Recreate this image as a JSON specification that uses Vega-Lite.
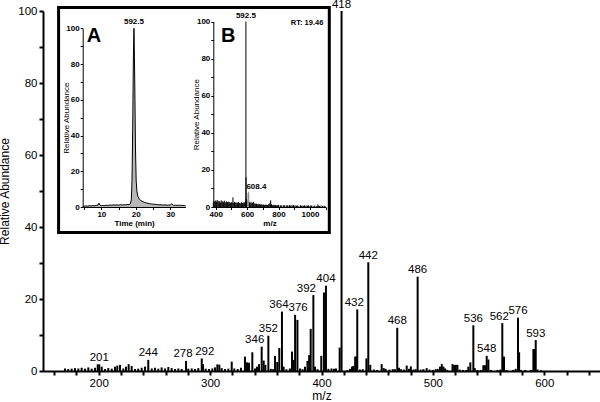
{
  "$schema": "https://vega.github.io/schema/vega-lite/v6.json",
  "width": 557,
  "height": 360,
  "autosize": {"type": "none"},
  "padding": {"left": 43, "top": 11, "right": 0, "bottom": 31},
  "background": "white",
  "config": {"view": {"stroke": null}, "font": "Liberation Sans"},
  "datasets": {
    "main": [
      {"mz": 169.7, "ab": 0.7}, {"mz": 172.7, "ab": 0.55}, {"mz": 175.7, "ab": 0.65}, {"mz": 178.7, "ab": 0.8},
      {"mz": 181.7, "ab": 0.7}, {"mz": 184.7, "ab": 0.9}, {"mz": 187.7, "ab": 0.65}, {"mz": 190.7, "ab": 1.0},
      {"mz": 193.7, "ab": 0.65}, {"mz": 196.7, "ab": 0.9}, {"mz": 199.1, "ab": 1.85}, {"mz": 200.5, "ab": 1.85, "label": "201"},
      {"mz": 202.7, "ab": 1.2}, {"mz": 205.7, "ab": 0.55}, {"mz": 208.6, "ab": 0.8}, {"mz": 211.7, "ab": 0.65},
      {"mz": 214.6, "ab": 1.2}, {"mz": 216.7, "ab": 1.5}, {"mz": 219.1, "ab": 1.7}, {"mz": 222.1, "ab": 0.7},
      {"mz": 224.5, "ab": 1.2}, {"mz": 226.9, "ab": 1.9}, {"mz": 229.6, "ab": 1.4}, {"mz": 232.6, "ab": 0.55},
      {"mz": 235.5, "ab": 0.65}, {"mz": 238.6, "ab": 0.9}, {"mz": 241.6, "ab": 1.2}, {"mz": 244.5, "ab": 3.1, "label": "244"},
      {"mz": 247.6, "ab": 0.7}, {"mz": 250.5, "ab": 0.9}, {"mz": 253.5, "ab": 0.65}, {"mz": 256.5, "ab": 1.0},
      {"mz": 259.5, "ab": 0.7}, {"mz": 262.5, "ab": 1.1}, {"mz": 265.5, "ab": 0.8}, {"mz": 268.5, "ab": 0.55},
      {"mz": 271.5, "ab": 0.7}, {"mz": 274.5, "ab": 0.55}, {"mz": 278.4, "ab": 2.8, "label": "278"}, {"mz": 280.4, "ab": 0.65},
      {"mz": 283.5, "ab": 0.7}, {"mz": 286.4, "ab": 0.55}, {"mz": 289.4, "ab": 0.8}, {"mz": 292.5, "ab": 3.5, "label": "292"},
      {"mz": 293.6, "ab": 1.9}, {"mz": 296, "ab": 0.65}, {"mz": 299, "ab": 0.55}, {"mz": 302, "ab": 0.7},
      {"mz": 304.4, "ab": 1.0}, {"mz": 306.5, "ab": 1.85}, {"mz": 308.3, "ab": 1.75}, {"mz": 310.4, "ab": 0.8},
      {"mz": 313.4, "ab": 0.55}, {"mz": 316.4, "ab": 0.65}, {"mz": 319.4, "ab": 2.6}, {"mz": 321.7, "ab": 0.7},
      {"mz": 324.8, "ab": 0.55}, {"mz": 327.7, "ab": 0.9}, {"mz": 331.3, "ab": 4.0}, {"mz": 333.1, "ab": 2.4},
      {"mz": 334.9, "ab": 2.3}, {"mz": 337.9, "ab": 5.2}, {"mz": 340.3, "ab": 0.7}, {"mz": 342.1, "ab": 1.2},
      {"mz": 343.9, "ab": 1.9}, {"mz": 346.3, "ab": 6.75, "label": "346"}, {"mz": 348.1, "ab": 2.9}, {"mz": 349.6, "ab": 1.7},
      {"mz": 352.3, "ab": 9.8, "label": "352"}, {"mz": 354.5, "ab": 0.6}, {"mz": 356.5, "ab": 0.5}, {"mz": 358.3, "ab": 4.2},
      {"mz": 360.3, "ab": 2.5}, {"mz": 362.1, "ab": 6.4}, {"mz": 364.5, "ab": 16.5, "label": "364"}, {"mz": 366, "ab": 1.2},
      {"mz": 368.5, "ab": 0.5}, {"mz": 371.6, "ab": 0.7}, {"mz": 373.5, "ab": 5.4}, {"mz": 374.9, "ab": 3.1},
      {"mz": 376.3, "ab": 15.6, "label": "376"}, {"mz": 378.4, "ab": 14.2}, {"mz": 380.7, "ab": 0.7}, {"mz": 383, "ab": 0.5},
      {"mz": 385.2, "ab": 1.2}, {"mz": 387.4, "ab": 2.8}, {"mz": 388.9, "ab": 4.4}, {"mz": 390.3, "ab": 11.7},
      {"mz": 392.7, "ab": 21.1, "label": "392"}, {"mz": 394.2, "ab": 1.2}, {"mz": 396.5, "ab": 0.5}, {"mz": 399.8, "ab": 4.2},
      {"mz": 402.2, "ab": 21.8}, {"mz": 404, "ab": 23.7, "label": "404"}, {"mz": 406.2, "ab": 0.6}, {"mz": 409, "ab": 0.7},
      {"mz": 411.2, "ab": 0.6}, {"mz": 413, "ab": 0.7}, {"mz": 416.3, "ab": 6.5}, {"mz": 418, "ab": 100, "label": "418"},
      {"mz": 423.2, "ab": 0.3}, {"mz": 425.6, "ab": 0.6}, {"mz": 427.4, "ab": 1.2}, {"mz": 428.6, "ab": 1.4},
      {"mz": 430.2, "ab": 4.0}, {"mz": 431, "ab": 4.0}, {"mz": 432.1, "ab": 17.1, "label": "432"}, {"mz": 434.5, "ab": 0.4},
      {"mz": 437, "ab": 0.5}, {"mz": 440.3, "ab": 3.5}, {"mz": 442, "ab": 30.2, "label": "442"}, {"mz": 443.8, "ab": 1.7},
      {"mz": 447, "ab": 0.4}, {"mz": 450, "ab": 0.3}, {"mz": 454, "ab": 1.9}, {"mz": 455.8, "ab": 0.8},
      {"mz": 457.5, "ab": 0.6}, {"mz": 461, "ab": 0.4}, {"mz": 464, "ab": 0.5}, {"mz": 466, "ab": 0.5},
      {"mz": 468, "ab": 12.0, "label": "468"}, {"mz": 469.6, "ab": 0.9}, {"mz": 471.5, "ab": 0.5}, {"mz": 474, "ab": 0.4},
      {"mz": 476.5, "ab": 1.5}, {"mz": 478.5, "ab": 0.6}, {"mz": 480.2, "ab": 1.3}, {"mz": 482.5, "ab": 0.4},
      {"mz": 484.5, "ab": 0.5}, {"mz": 486.3, "ab": 26.2, "label": "486"}, {"mz": 489, "ab": 0.4}, {"mz": 491.5, "ab": 0.5},
      {"mz": 494.4, "ab": 0.8}, {"mz": 497, "ab": 0.4}, {"mz": 500, "ab": 0.3}, {"mz": 502.5, "ab": 0.5},
      {"mz": 504.3, "ab": 0.6}, {"mz": 506.4, "ab": 1.2}, {"mz": 508, "ab": 1.9}, {"mz": 509.5, "ab": 1.2},
      {"mz": 511, "ab": 0.7}, {"mz": 513, "ab": 0.3}, {"mz": 517.6, "ab": 1.9}, {"mz": 519.1, "ab": 1.7},
      {"mz": 520.6, "ab": 1.7}, {"mz": 522, "ab": 1.7}, {"mz": 524, "ab": 0.4}, {"mz": 527, "ab": 0.3},
      {"mz": 530, "ab": 0.3}, {"mz": 531.8, "ab": 1.2}, {"mz": 533.6, "ab": 2.4}, {"mz": 536.3, "ab": 12.7, "label": "536"},
      {"mz": 537.6, "ab": 0.8}, {"mz": 540, "ab": 0.3}, {"mz": 543, "ab": 0.3}, {"mz": 545.3, "ab": 1.6},
      {"mz": 546.8, "ab": 1.6}, {"mz": 548.3, "ab": 4.2, "label": "548"}, {"mz": 549.8, "ab": 3.2}, {"mz": 552, "ab": 0.3},
      {"mz": 558, "ab": 0.3}, {"mz": 560.5, "ab": 0.4}, {"mz": 562.3, "ab": 13.3, "label": "562"}, {"mz": 563.8, "ab": 4.0},
      {"mz": 566, "ab": 0.3}, {"mz": 572, "ab": 0.3}, {"mz": 574.3, "ab": 0.6}, {"mz": 576.4, "ab": 14.8, "label": "576"},
      {"mz": 577.4, "ab": 5.2}, {"mz": 579, "ab": 0.3}, {"mz": 583, "ab": 0.3}, {"mz": 588, "ab": 0.3},
      {"mz": 590.2, "ab": 6.1}, {"mz": 591, "ab": 6.1}, {"mz": 592.3, "ab": 8.6, "label": "593"}, {"mz": 594, "ab": 0.4},
      {"mz": 597, "ab": 0.2}
    ],
    "chrom": [
      {"t": 4.6, "ab": 0.3}, {"t": 5, "ab": 0.5}, {"t": 5.5, "ab": 0.6}, {"t": 6, "ab": 0.5}, {"t": 6.5, "ab": 0.7},
      {"t": 7, "ab": 0.6}, {"t": 7.5, "ab": 0.8}, {"t": 8, "ab": 0.7}, {"t": 8.5, "ab": 0.9}, {"t": 9, "ab": 1.0},
      {"t": 9.3, "ab": 2.2}, {"t": 9.6, "ab": 1.0}, {"t": 10, "ab": 0.8}, {"t": 10.5, "ab": 0.9}, {"t": 11, "ab": 0.8},
      {"t": 11.5, "ab": 1.0}, {"t": 12, "ab": 0.9}, {"t": 12.5, "ab": 1.1}, {"t": 13, "ab": 1.0}, {"t": 13.5, "ab": 1.2},
      {"t": 14, "ab": 1.1}, {"t": 14.5, "ab": 1.2}, {"t": 15, "ab": 1.0}, {"t": 15.5, "ab": 1.3}, {"t": 16, "ab": 1.1},
      {"t": 16.5, "ab": 1.3}, {"t": 17, "ab": 1.2}, {"t": 17.5, "ab": 1.4}, {"t": 18, "ab": 1.3}, {"t": 18.4, "ab": 1.8},
      {"t": 18.7, "ab": 4}, {"t": 18.9, "ab": 15}, {"t": 19.1, "ab": 45}, {"t": 19.3, "ab": 85}, {"t": 19.46, "ab": 100, "label": "592.5"},
      {"t": 19.6, "ab": 84}, {"t": 19.75, "ab": 60}, {"t": 19.9, "ab": 33}, {"t": 20.1, "ab": 15}, {"t": 20.3, "ab": 9},
      {"t": 20.6, "ab": 6}, {"t": 21, "ab": 4.5}, {"t": 21.5, "ab": 3.5}, {"t": 22, "ab": 3.0}, {"t": 22.5, "ab": 2.6},
      {"t": 23, "ab": 2.3}, {"t": 23.5, "ab": 2.1}, {"t": 24, "ab": 1.9}, {"t": 24.5, "ab": 1.7}, {"t": 25, "ab": 1.6},
      {"t": 25.5, "ab": 1.5}, {"t": 26, "ab": 1.4}, {"t": 26.5, "ab": 1.3}, {"t": 27, "ab": 1.2}, {"t": 27.5, "ab": 1.2},
      {"t": 28, "ab": 1.1}, {"t": 28.5, "ab": 1.2}, {"t": 29, "ab": 1.0}, {"t": 29.5, "ab": 1.1}, {"t": 30, "ab": 1.0},
      {"t": 30.4, "ab": 1.9}, {"t": 30.8, "ab": 1.0}, {"t": 31, "ab": 0.9}, {"t": 31.5, "ab": 1.0}, {"t": 32, "ab": 0.9},
      {"t": 32.5, "ab": 1.0}, {"t": 33, "ab": 0.9}, {"t": 33.5, "ab": 0.9}, {"t": 34, "ab": 0.8}, {"t": 34.4, "ab": 0.8}
    ],
    "ms2": [
      {"mz": 385, "ab": 2.5}, {"mz": 390, "ab": 3.2}, {"mz": 395, "ab": 2.8}, {"mz": 400, "ab": 3.5}, {"mz": 405, "ab": 2.9},
      {"mz": 410, "ab": 3.8}, {"mz": 415, "ab": 2.6}, {"mz": 420, "ab": 3.3}, {"mz": 425, "ab": 3.0}, {"mz": 430, "ab": 2.4},
      {"mz": 435, "ab": 3.6}, {"mz": 440, "ab": 2.9}, {"mz": 445, "ab": 3.1}, {"mz": 450, "ab": 2.5}, {"mz": 455, "ab": 3.4},
      {"mz": 460, "ab": 2.7}, {"mz": 465, "ab": 2.2}, {"mz": 470, "ab": 3.0}, {"mz": 475, "ab": 2.6}, {"mz": 480, "ab": 2.9},
      {"mz": 485, "ab": 2.3}, {"mz": 490, "ab": 2.7}, {"mz": 495, "ab": 2.1}, {"mz": 500, "ab": 2.6}, {"mz": 505, "ab": 2.4},
      {"mz": 510, "ab": 5.2}, {"mz": 515, "ab": 2.2}, {"mz": 520, "ab": 2.8}, {"mz": 525, "ab": 2.3}, {"mz": 530, "ab": 2.5},
      {"mz": 535, "ab": 2.0}, {"mz": 540, "ab": 2.4}, {"mz": 545, "ab": 2.6}, {"mz": 550, "ab": 2.1}, {"mz": 555, "ab": 2.3},
      {"mz": 560, "ab": 1.8}, {"mz": 565, "ab": 2.5}, {"mz": 570, "ab": 2.2}, {"mz": 575, "ab": 1.9}, {"mz": 580, "ab": 2.6},
      {"mz": 585, "ab": 2.4}, {"mz": 590, "ab": 3.0}, {"mz": 592.5, "ab": 100, "label": "592.5"}, {"mz": 593.5, "ab": 16},
      {"mz": 595, "ab": 4.5}, {"mz": 598, "ab": 3.0}, {"mz": 604, "ab": 3.5}, {"mz": 606, "ab": 7.5},
      {"mz": 608.4, "ab": 8.2, "label": "608.4"}, {"mz": 610.5, "ab": 7.0}, {"mz": 612, "ab": 3.0},
      {"mz": 615, "ab": 2.5}, {"mz": 620, "ab": 2.0}, {"mz": 625, "ab": 2.8}, {"mz": 630, "ab": 1.9}, {"mz": 635, "ab": 2.3},
      {"mz": 640, "ab": 2.8}, {"mz": 645, "ab": 1.7}, {"mz": 650, "ab": 2.0}, {"mz": 655, "ab": 1.6}, {"mz": 660, "ab": 1.8},
      {"mz": 665, "ab": 1.4}, {"mz": 670, "ab": 1.7}, {"mz": 675, "ab": 1.3}, {"mz": 680, "ab": 1.6}, {"mz": 685, "ab": 1.2},
      {"mz": 690, "ab": 1.5}, {"mz": 695, "ab": 1.1}, {"mz": 700, "ab": 1.4}, {"mz": 705, "ab": 1.2}, {"mz": 710, "ab": 1.0},
      {"mz": 715, "ab": 1.3}, {"mz": 720, "ab": 1.1}, {"mz": 725, "ab": 1.2}, {"mz": 730, "ab": 1.0}, {"mz": 735, "ab": 1.4},
      {"mz": 740, "ab": 1.5}, {"mz": 745, "ab": 2.2}, {"mz": 750, "ab": 3.6}, {"mz": 755, "ab": 1.5}, {"mz": 760, "ab": 1.1},
      {"mz": 765, "ab": 1.0}, {"mz": 770, "ab": 1.2}, {"mz": 775, "ab": 0.9}, {"mz": 780, "ab": 1.1}, {"mz": 785, "ab": 0.8},
      {"mz": 790, "ab": 1.0}, {"mz": 795, "ab": 0.9}, {"mz": 800, "ab": 1.1}, {"mz": 810, "ab": 0.8}, {"mz": 815, "ab": 1.0},
      {"mz": 820, "ab": 0.7}, {"mz": 830, "ab": 0.9}, {"mz": 835, "ab": 0.8}, {"mz": 840, "ab": 1.0}, {"mz": 850, "ab": 0.7},
      {"mz": 855, "ab": 0.9}, {"mz": 860, "ab": 0.8}, {"mz": 870, "ab": 1.0}, {"mz": 875, "ab": 0.7}, {"mz": 880, "ab": 0.9},
      {"mz": 890, "ab": 0.8}, {"mz": 895, "ab": 1.1}, {"mz": 900, "ab": 0.7}, {"mz": 910, "ab": 0.9}, {"mz": 915, "ab": 0.6},
      {"mz": 920, "ab": 0.8}, {"mz": 930, "ab": 0.7}, {"mz": 940, "ab": 0.9}, {"mz": 945, "ab": 0.6}, {"mz": 950, "ab": 0.8},
      {"mz": 960, "ab": 0.7}, {"mz": 965, "ab": 0.9}, {"mz": 970, "ab": 0.6}, {"mz": 980, "ab": 0.8}, {"mz": 985, "ab": 0.7},
      {"mz": 990, "ab": 0.9}, {"mz": 1000, "ab": 0.6}, {"mz": 1005, "ab": 0.8}, {"mz": 1010, "ab": 0.7}, {"mz": 1020, "ab": 0.6},
      {"mz": 1030, "ab": 0.8}, {"mz": 1040, "ab": 0.6}, {"mz": 1050, "ab": 1.4}, {"mz": 1055, "ab": 0.7}, {"mz": 1060, "ab": 0.6},
      {"mz": 1070, "ab": 0.8}, {"mz": 1080, "ab": 0.6}, {"mz": 1090, "ab": 0.7}, {"mz": 1095, "ab": 0.5}
    ]
  },
  "layer": [
    {
      "data": {"name": "main"},
      "encoding": {
        "x": {
          "field": "mz", "type": "quantitative", "title": "m/z",
          "scale": {"domain": [150, 650], "nice": false, "zero": false},
          "axis": {
            "orient": "bottom",
            "values": [160, 180, 200, 220, 240, 260, 280, 300, 320, 340, 360, 380, 400, 420, 440, 460, 480, 500, 520, 540, 560, 580, 600, 620, 640],
            "labelExpr": "datum.value % 100 === 0 ? datum.label : ''",
            "grid": false, "domainWidth": 2, "domainColor": "black", "tickColor": "black", "tickWidth": 2, "tickSize": 4,
            "labelFontSize": 11.5, "labelColor": "black", "labelPadding": 2, "labelFlush": false, "labelOverlap": false,
            "titleFontSize": 12, "titleFontWeight": "normal", "titleColor": "black", "titlePadding": 2
          }
        },
        "y": {
          "field": "ab", "type": "quantitative", "title": "Relative Abundance",
          "scale": {"domain": [0, 100], "nice": false},
          "axis": {
            "orient": "left",
            "values": [0, 10, 20, 30, 40, 50, 60, 70, 80, 90, 100],
            "labelExpr": "datum.value % 20 === 0 ? datum.label : ''",
            "grid": false, "domainWidth": 2, "domainColor": "black", "tickColor": "black", "tickWidth": 2, "tickSize": 4,
            "labelFontSize": 11.5, "labelColor": "black", "labelPadding": 2, "labelFlush": false, "labelOverlap": false,
            "titleFontSize": 12, "titleFontWeight": "normal", "titleColor": "black", "titlePadding": 6
          }
        }
      },
      "layer": [
        {"mark": {"type": "rule", "strokeWidth": 2, "color": "black"}, "encoding": {"y2": {"datum": 0}}},
        {
          "transform": [{"filter": {"field": "label", "oneOf": ["201", "244", "352", "404", "418", "442", "468", "486", "536", "548", "576", "593"]}}],
          "mark": {"type": "text", "baseline": "bottom", "dy": -1.5, "fontSize": 11.5, "color": "black"},
          "encoding": {"text": {"field": "label"}}
        },
        {
          "transform": [{"filter": {"field": "label", "oneOf": ["292", "376"]}}],
          "mark": {"type": "text", "baseline": "bottom", "dy": -1.5, "dx": 3, "fontSize": 11.5, "color": "black"},
          "encoding": {"text": {"field": "label"}}
        },
        {
          "transform": [{"filter": {"field": "label", "oneOf": ["346", "392"]}}],
          "mark": {"type": "text", "baseline": "bottom", "dy": -1.5, "dx": -7, "fontSize": 11.5, "color": "black"},
          "encoding": {"text": {"field": "label"}}
        },
        {
          "transform": [{"filter": {"field": "label", "oneOf": ["278", "364", "432", "562"]}}],
          "mark": {"type": "text", "baseline": "bottom", "dy": -1.5, "dx": -3, "fontSize": 11.5, "color": "black"},
          "encoding": {"text": {"field": "label"}}
        },
        {
          "transform": [{"filter": {"field": "label", "equal": "418"}}],
          "mark": {"type": "rect", "filled": false, "color": "black", "strokeWidth": 3},
          "encoding": {"x": {"datum": 164}, "x2": {"datum": 407}, "y": {"datum": 101}, "y2": {"datum": 38.5}}
        }
      ]
    },
    {
      "data": {"name": "chrom"},
      "encoding": {
        "x": {
          "field": "t", "type": "quantitative", "title": "Time (min)",
          "scale": {"domain": [4.6, 34.4], "range": [39.7, 142.5], "nice": false, "zero": false},
          "axis": {
            "orient": "bottom", "offset": -164, "zindex": 1,
            "values": [5, 10, 15, 20, 25, 30],
            "labelExpr": "datum.value % 10 === 0 ? datum.label : ''",
            "grid": false, "domainWidth": 1, "domainColor": "black", "tickColor": "black", "tickWidth": 1, "tickSize": 2.5,
            "labelFontSize": 8, "labelFontWeight": "bold", "labelColor": "black", "labelPadding": 1, "labelFlush": false, "labelOverlap": false,
            "titleFontSize": 8, "titleFontWeight": "bold", "titleColor": "black", "titlePadding": 1
          }
        },
        "y": {
          "field": "ab", "type": "quantitative", "title": "Relative Abundance",
          "scale": {"domain": [0, 100], "range": [196, 17.3], "nice": false},
          "axis": {
            "orient": "left", "offset": -39.7, "zindex": 1,
            "values": [0, 10, 20, 30, 40, 50, 60, 70, 80, 90, 100],
            "labelExpr": "datum.value % 20 === 0 ? datum.label : ''",
            "grid": false, "domainWidth": 1, "domainColor": "black", "tickColor": "black", "tickWidth": 1, "tickSize": 2.5,
            "labelFontSize": 8, "labelFontWeight": "bold", "labelColor": "black", "labelPadding": 1, "labelFlush": false, "labelOverlap": false,
            "titleFontSize": 8, "titleFontWeight": "normal", "titleColor": "black", "titlePadding": -4.5
          }
        }
      },
      "layer": [
        {"mark": {"type": "area", "color": "#9a9a9a", "line": {"color": "black", "strokeWidth": 1}}},
        {
          "transform": [{"filter": {"field": "label", "equal": "592.5"}}],
          "mark": {"type": "text", "baseline": "bottom", "dy": -2, "fontSize": 8, "fontWeight": "bold", "color": "black"},
          "encoding": {"text": {"field": "label"}}
        },
        {
          "transform": [{"filter": {"field": "label", "equal": "592.5"}}],
          "mark": {"type": "text", "text": "A", "baseline": "middle", "fontSize": 20, "fontWeight": "bold", "color": "black"},
          "encoding": {"x": {"datum": 7.9}, "y": {"datum": 95.5}}
        }
      ]
    },
    {
      "data": {"name": "ms2"},
      "encoding": {
        "x": {
          "field": "mz", "type": "quantitative", "title": "m/z",
          "scale": {"domain": [385, 1100], "range": [170.3, 282.7], "nice": false, "zero": false},
          "axis": {
            "orient": "bottom", "offset": -164, "zindex": 1, "format": "d",
            "values": [400, 500, 600, 700, 800, 900, 1000, 1100],
            "labelExpr": "datum.value % 200 === 0 ? datum.label : ''",
            "grid": false, "domainWidth": 1, "domainColor": "black", "tickColor": "black", "tickWidth": 1, "tickSize": 2.5,
            "labelFontSize": 8, "labelFontWeight": "bold", "labelColor": "black", "labelPadding": 1, "labelFlush": false, "labelOverlap": false,
            "titleFontSize": 8, "titleFontWeight": "bold", "titleColor": "black", "titlePadding": 1
          }
        },
        "y": {
          "field": "ab", "type": "quantitative", "title": "Relative Abundance",
          "scale": {"domain": [0, 100], "range": [196, 10.5], "nice": false},
          "axis": {
            "orient": "left", "offset": -170.3, "zindex": 1,
            "values": [0, 10, 20, 30, 40, 50, 60, 70, 80, 90, 100],
            "labelExpr": "datum.value % 20 === 0 ? datum.label : ''",
            "grid": false, "domainWidth": 1, "domainColor": "black", "tickColor": "black", "tickWidth": 1, "tickSize": 2.5,
            "labelFontSize": 8, "labelFontWeight": "bold", "labelColor": "black", "labelPadding": 1, "labelFlush": false, "labelOverlap": false,
            "titleFontSize": 8, "titleFontWeight": "normal", "titleColor": "black", "titlePadding": -4.5
          }
        }
      },
      "layer": [
        {
          "mark": {"type": "rule", "strokeWidth": 1},
          "encoding": {
            "y2": {"datum": 0},
            "color": {"condition": {"test": "datum.mz > 603 && datum.mz < 613", "value": "#8c8c8c"}, "value": "black"}
          }
        },
        {
          "transform": [{"filter": {"field": "label", "equal": "592.5"}}],
          "mark": {"type": "text", "baseline": "bottom", "dy": -2, "fontSize": 8, "fontWeight": "bold", "color": "black"},
          "encoding": {"text": {"field": "label"}}
        },
        {
          "transform": [{"filter": {"field": "label", "equal": "608.4"}}],
          "mark": {"type": "text", "baseline": "bottom", "align": "left", "dx": -2, "dy": -1, "fontSize": 8, "fontWeight": "bold", "color": "black"},
          "encoding": {"text": {"field": "label"}}
        },
        {
          "transform": [{"filter": {"field": "label", "equal": "592.5"}}],
          "mark": {"type": "text", "text": "B", "baseline": "middle", "fontSize": 20, "fontWeight": "bold", "color": "black"},
          "encoding": {"x": {"datum": 480}, "y": {"datum": 92}}
        },
        {
          "transform": [{"filter": {"field": "label", "equal": "592.5"}}],
          "mark": {"type": "text", "text": "RT: 19.46", "baseline": "bottom", "align": "right", "fontSize": 7.5, "fontWeight": "bold", "color": "black"},
          "encoding": {"x": {"datum": 1085}, "y": {"datum": 97}}
        }
      ]
    }
  ],
  "resolve": {"scale": {"x": "independent", "y": "independent"}}
}
